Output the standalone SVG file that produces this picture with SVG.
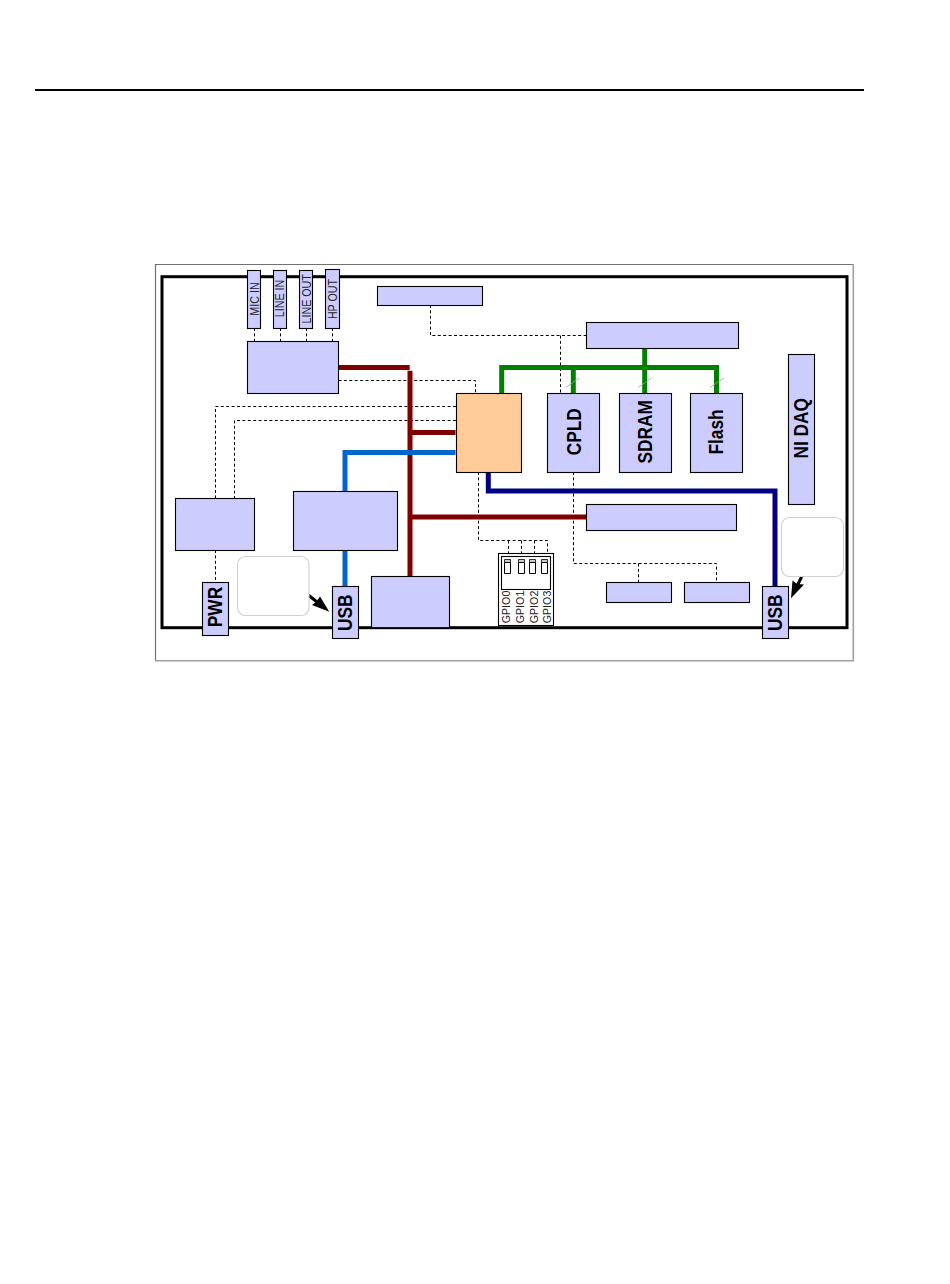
<svg xmlns="http://www.w3.org/2000/svg" width="950" height="1284" viewBox="0 0 950 1284">
<style>
.n{fill:#ccccff;stroke:#000;stroke-width:1.1}
.f{fill:#ffcc99;stroke:#000;stroke-width:1.1}
.r{fill:#fff;stroke:#d0d0d0;stroke-width:1.1}
.w{fill:#fff;stroke:#000;stroke-width:1.1}
.d{fill:none;stroke:#000;stroke-width:1;stroke-dasharray:3 2.4}
.b{fill:none;stroke-width:5}
.red{stroke:#800000}.blu{stroke:#0066cc}.grn{stroke:#008000}.nav{stroke:#000080}
.l{font-family:"Liberation Sans",Arial,sans-serif;font-weight:bold;font-size:21px;text-anchor:middle;fill:#000}
.s{font-family:"Liberation Sans",Arial,sans-serif;font-size:12.6px;text-anchor:middle;fill:#222}
.g{font-family:"Liberation Sans",Arial,sans-serif;font-size:10.7px;text-anchor:middle;fill:#222}
</style>
<line id="rule" x1="35" y1="90" x2="864" y2="90" stroke="#000" stroke-width="2"/>
<g id="frame">
<rect x="155.5" y="264.5" width="698" height="396" fill="#fff" stroke="none"/>
<path d="M155.5 660.5V264.5H853.5" fill="none" stroke="#707070" stroke-width="1.2"/>
<path d="M155 660.7H853.3V264.5" fill="none" stroke="#a0a0a0" stroke-width="1.6"/>
<rect x="162" y="276.7" width="685" height="351" fill="#fff" stroke="#000" stroke-width="3"/>
</g>
<g id="connectors">
<g class="d">
<path d="M254.5 328V341M280.5 328V341M306.5 328V341M332.5 328V341"/>
<path d="M430.5 305V335.5H586"/>
<path d="M560.5 335.5V393"/>
<path d="M338.5 380.5H475.5V393"/>
<path d="M456 406.5H215.5V498"/>
<path d="M456 420.5H234.5V498"/>
<path d="M215.5 550V582"/>
<path d="M478.5 472V540.5H547.5V553M508.5 540.5V553M521.5 540.5V553M534.5 540.5V553"/>
<path d="M573.5 472V563.5H716.5V582M638.5 563.5V582"/>
</g>
<g class="b red">
<path d="M338.5 367.5H409.7"/>
<path d="M410 370.7V576.5"/>
<path d="M410 432.5H455.5"/>
<path d="M410 517H586.5"/>
</g>
<g class="b blu">
<path d="M455.5 452.5H345V491"/>
<path d="M345 550V586"/>
</g>
<g class="b grn">
<path d="M501.7 393V367.5H716.5V393"/>
<path d="M573.3 367.5V393"/>
<path d="M644.7 348V393"/>
</g>
<g class="b nav"><path d="M488.3 472V491H775V586"/></g>
<g stroke="#999" stroke-width="0.8">
<path d="M566 387.3L579.3 378M638.5 387.3L651.5 378M710.3 387.3L724 378"/>
</g>
<g id="arrow-left">
<path d="M308.3 595L317 602" stroke="#000" stroke-width="3" fill="none"/>
<path d="M329.3 611.7L320 596.5L316.5 601.5L312 605Z" fill="#000"/>
</g>
<g id="arrow-right">
<path d="M801.7 576.7L797 586" stroke="#000" stroke-width="3" fill="none"/>
<path d="M791 598.3L792.5 580.5L797 584L804 584.5Z" fill="#000"/>
</g>
</g>
<g id="mic-in"><rect class="n" x="247.5" y="270.5" width="13" height="58"/><text class="s" transform="translate(258.7 299) rotate(-90) scale(.85 1)">MIC IN</text></g>
<g id="line-in"><rect class="n" x="273.5" y="270.5" width="13" height="58"/><text class="s" transform="translate(284.3 298.5) rotate(-90) scale(.85 1)">LINE IN</text></g>
<g id="line-out"><rect class="n" x="299.5" y="270.5" width="13" height="58"/><text class="s" transform="translate(310.7 298.8) rotate(-90) scale(.85 1)">LINE OUT</text></g>
<g id="hp-out"><rect class="n" x="325.5" y="269.5" width="14" height="59"/><text class="s" transform="translate(336.5 299) rotate(-90) scale(.85 1)">HP OUT</text></g>
<g id="codec"><rect class="n" x="247.5" y="341.5" width="91" height="52"/></g>
<g id="top-box"><rect class="n" x="377.5" y="286.5" width="105" height="19"/></g>
<g id="fpga"><rect class="f" x="456.5" y="393.5" width="65" height="79"/></g>
<g id="top-right-box"><rect class="n" x="586.5" y="322.5" width="152" height="26"/></g>
<g id="cpld"><rect class="n" x="547.5" y="393.5" width="52" height="79"/><text class="l" transform="translate(581 431.7) rotate(-90) scale(.824 1)">CPLD</text></g>
<g id="sdram"><rect class="n" x="619.5" y="393.5" width="52" height="79"/><text class="l" transform="translate(652.3 431.7) rotate(-90) scale(.824 1)">SDRAM</text></g>
<g id="flash"><rect class="n" x="690.5" y="393.5" width="52" height="79"/><text class="l" transform="translate(723.3 432) rotate(-90) scale(.824 1)">Flash</text></g>
<g id="ni-daq"><rect class="n" x="788.5" y="354.5" width="26" height="150"/><text class="l" transform="translate(808.3 428.3) rotate(-90) scale(.824 1)">NI DAQ</text></g>
<g id="left-box"><rect class="n" x="175.5" y="498.5" width="79" height="52"/></g>
<g id="center-box"><rect class="n" x="293.5" y="491.5" width="104" height="59"/></g>
<g id="mid-right-box"><rect class="n" x="586.5" y="504.5" width="150" height="26"/></g>
<g id="bottom-box"><rect class="n" x="371.5" y="576.5" width="78" height="51.2"/></g>
<g id="small-a"><rect class="n" x="606.5" y="582.5" width="65" height="20"/></g>
<g id="small-b"><rect class="n" x="684.5" y="582.5" width="65" height="20"/></g>
<g id="pwr"><rect class="n" x="202.5" y="582.5" width="26" height="53"/><text class="l" transform="translate(222 607) rotate(-90) scale(.824 1)">PWR</text></g>
<g id="usb-left"><rect class="n" x="332.5" y="586.5" width="26" height="52"/><text class="l" transform="translate(352.3 612.8) rotate(-90) scale(.824 1)">USB</text></g>
<g id="usb-right"><rect class="n" x="762.5" y="586.5" width="26" height="52"/><text class="l" transform="translate(782.3 612.8) rotate(-90) scale(.824 1)">USB</text></g>
<g id="note-left"><rect class="r" x="237.5" y="556.5" width="71.5" height="59" rx="8"/></g>
<g id="note-right"><rect class="r" x="781.5" y="517.5" width="62" height="59" rx="8"/></g>
<g id="gpio">
<rect class="w" x="498.5" y="553.5" width="55" height="72"/>
<rect class="w" x="501.5" y="556.5" width="49" height="33"/>
<path d="M504.5 559.5h6v3h-6zM518.5 559.5h6v3h-6zM529.5 559.5h6v3h-6zM541.5 559.5h6v3h-6z" fill="#ccc" stroke="#000" stroke-width=".8"/>
<path d="M504.5 562.5h6v11h-6zM518.5 562.5h6v11h-6zM529.5 562.5h6v11h-6zM541.5 562.5h6v11h-6z" fill="#fff" stroke="#000" stroke-width="1"/>
<text class="g" transform="translate(510 607) rotate(-90)">GPIO0</text>
<text class="g" transform="translate(523.7 607) rotate(-90)">GPIO1</text>
<text class="g" transform="translate(537.5 607) rotate(-90)">GPIO2</text>
<text class="g" transform="translate(551 607) rotate(-90)">GPIO3</text>
</g>
</svg>
